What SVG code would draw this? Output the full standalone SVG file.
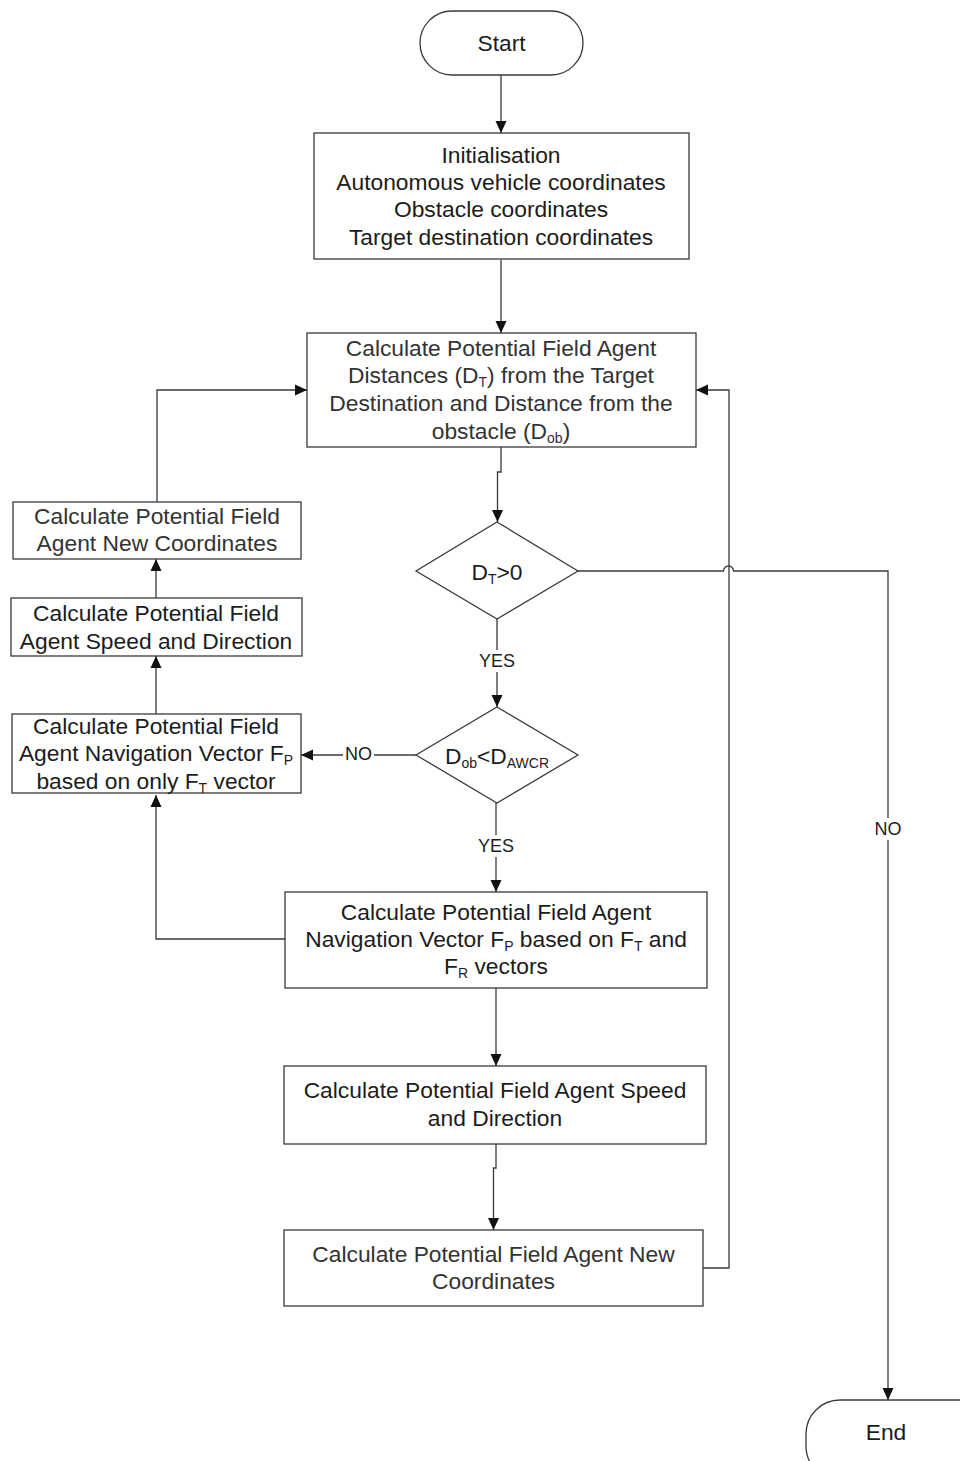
<svg xmlns="http://www.w3.org/2000/svg" width="960" height="1461" viewBox="0 0 960 1461">
  <style>
    .box { fill: #ffffff; stroke: #3a3a3a; stroke-width: 1.3; }
    .txt { font-family: "Liberation Sans", Arial, sans-serif; font-size: 22.8px; fill: #1c1c1c; text-anchor: middle; }
    .soft { fill: #333333; }
    .lbl { font-family: "Liberation Sans", Arial, sans-serif; font-size: 18px; fill: #1c1c1c; text-anchor: middle; }
    .sub { font-size: 14px; }
    .wire { fill: none; stroke: #3a3a3a; stroke-width: 1.3; }
  </style>
  <defs>
    <marker id="arrow" viewBox="0 0 12 12" refX="12" refY="6" markerWidth="12" markerHeight="12" markerUnits="userSpaceOnUse" orient="auto">
      <path d="M0,0.5 L12,6 L0,11.5 Z" fill="#111111"/>
    </marker>
  </defs>
  <rect width="960" height="1461" fill="#ffffff"/>

  <!-- connectors -->
  <g id="connectors">
    <path class="wire" d="M501,75 V133" marker-end="url(#arrow)"/>
    <path class="wire" d="M501,260 V333" marker-end="url(#arrow)"/>
    <path class="wire" d="M501,447 V472 H497.5 V522" marker-end="url(#arrow)"/>
    <!-- DT>0 : NO branch to End, hopping over the loop-back line -->
    <path class="wire" d="M578,571 H723.5 A5,5 0 0 1 733.5,571 H888 V1400" marker-end="url(#arrow)"/>
    <!-- DT>0 : YES -->
    <path class="wire" d="M497,619 V650"/>
    <path class="wire" d="M497,672 V707" marker-end="url(#arrow)"/>
    <!-- Dob<DAWCR : NO -->
    <path class="wire" d="M416,755 H374"/>
    <path class="wire" d="M343,755 H301" marker-end="url(#arrow)"/>
    <!-- Dob<DAWCR : YES -->
    <path class="wire" d="M496,803 V835"/>
    <path class="wire" d="M496,857 V892" marker-end="url(#arrow)"/>
    <!-- left column -->
    <path class="wire" d="M285,939 H156 V795" marker-end="url(#arrow)"/>
    <path class="wire" d="M156,714 V656" marker-end="url(#arrow)"/>
    <path class="wire" d="M156,598 V559" marker-end="url(#arrow)"/>
    <path class="wire" d="M157,502 V390 H307" marker-end="url(#arrow)"/>
    <!-- centre column -->
    <path class="wire" d="M496,988 V1066" marker-end="url(#arrow)"/>
    <path class="wire" d="M496,1144 V1168 H493.5 V1230" marker-end="url(#arrow)"/>
    <!-- loop back -->
    <path class="wire" d="M703,1268 H729 V390 H696" marker-end="url(#arrow)"/>
    <!-- branch labels -->
    <text class="lbl" x="497" y="667">YES</text>
    <text class="lbl" x="358.5" y="760">NO</text>
    <text class="lbl" x="496" y="852">YES</text>
    <rect x="872" y="818" width="32" height="22" fill="#ffffff"/>
    <text class="lbl" x="888" y="835">NO</text>
  </g>

  <g id="start">
    <rect class="box" x="420" y="11" width="163" height="64" rx="32" ry="32"/>
    <text class="txt" x="501.5" y="51">Start</text>
  </g>

  <g id="init">
    <rect class="box" x="314" y="133" width="375" height="126"/>
    <text class="txt" x="501" y="163">Initialisation</text>
    <text class="txt" x="501" y="190">Autonomous vehicle coordinates</text>
    <text class="txt" x="501" y="217">Obstacle coordinates</text>
    <text class="txt" x="501" y="245">Target destination coordinates</text>
  </g>

  <g id="distances">
    <rect class="box" x="307" y="333" width="389" height="114"/>
    <text class="txt soft" x="501" y="356">Calculate Potential Field Agent</text>
    <text class="txt soft" x="501" y="383">Distances (D<tspan class="sub" dy="4">T</tspan><tspan dy="-4">) from the Target</tspan></text>
    <text class="txt soft" x="501" y="411">Destination and Distance from the</text>
    <text class="txt soft" x="501" y="439">obstacle (D<tspan class="sub" dy="4">ob</tspan><tspan dy="-4">)</tspan></text>
  </g>

  <g id="check-target">
    <polygon class="box" points="497,522 578,571 497,619 416,571"/>
    <text class="txt" x="497" y="580">D<tspan class="sub" dy="4">T</tspan><tspan dy="-4">&gt;0</tspan></text>
  </g>

  <g id="check-obstacle">
    <polygon class="box" points="497,707 578,755 497,803 416,755"/>
    <text class="txt" x="497" y="764">D<tspan class="sub" dy="4">ob</tspan><tspan dy="-4">&lt;D</tspan><tspan class="sub" dy="4">AWCR</tspan></text>
  </g>

  <g id="left-new-coordinates">
    <rect class="box" x="13" y="502" width="288" height="57"/>
    <text class="txt soft" x="157" y="524">Calculate Potential Field</text>
    <text class="txt soft" x="157" y="551">Agent New Coordinates</text>
  </g>

  <g id="left-speed">
    <rect class="box" x="11" y="598" width="291" height="58"/>
    <text class="txt" x="156" y="621">Calculate Potential Field</text>
    <text class="txt" x="156" y="649">Agent Speed and Direction</text>
  </g>

  <g id="left-navigation">
    <rect class="box" x="12" y="714" width="289" height="79"/>
    <text class="txt" x="156" y="734">Calculate Potential Field</text>
    <text class="txt" x="156" y="761">Agent Navigation Vector F<tspan class="sub" dy="4">P</tspan></text>
    <text class="txt" x="156" y="789">based on only F<tspan class="sub" dy="4">T</tspan><tspan dy="-4"> vector</tspan></text>
  </g>

  <g id="navigation">
    <rect class="box" x="285" y="892" width="422" height="96"/>
    <text class="txt" x="496" y="920">Calculate Potential Field Agent</text>
    <text class="txt" x="496" y="947">Navigation Vector F<tspan class="sub" dy="4">P</tspan><tspan dy="-4"> based on F</tspan><tspan class="sub" dy="4">T</tspan><tspan dy="-4"> and</tspan></text>
    <text class="txt" x="496" y="974">F<tspan class="sub" dy="4">R</tspan><tspan dy="-4"> vectors</tspan></text>
  </g>

  <g id="speed">
    <rect class="box" x="284" y="1066" width="422" height="78"/>
    <text class="txt" x="495" y="1098">Calculate Potential Field Agent Speed</text>
    <text class="txt" x="495" y="1126">and Direction</text>
  </g>

  <g id="new-coordinates">
    <rect class="box" x="284" y="1230" width="419" height="76"/>
    <text class="txt soft" x="493.5" y="1262">Calculate Potential Field Agent New</text>
    <text class="txt soft" x="493.5" y="1289">Coordinates</text>
  </g>

  <g id="end">
    <rect class="box" x="806" y="1400" width="200" height="80" rx="34" ry="34"/>
    <text class="txt" x="886" y="1440">End</text>
  </g>
</svg>
